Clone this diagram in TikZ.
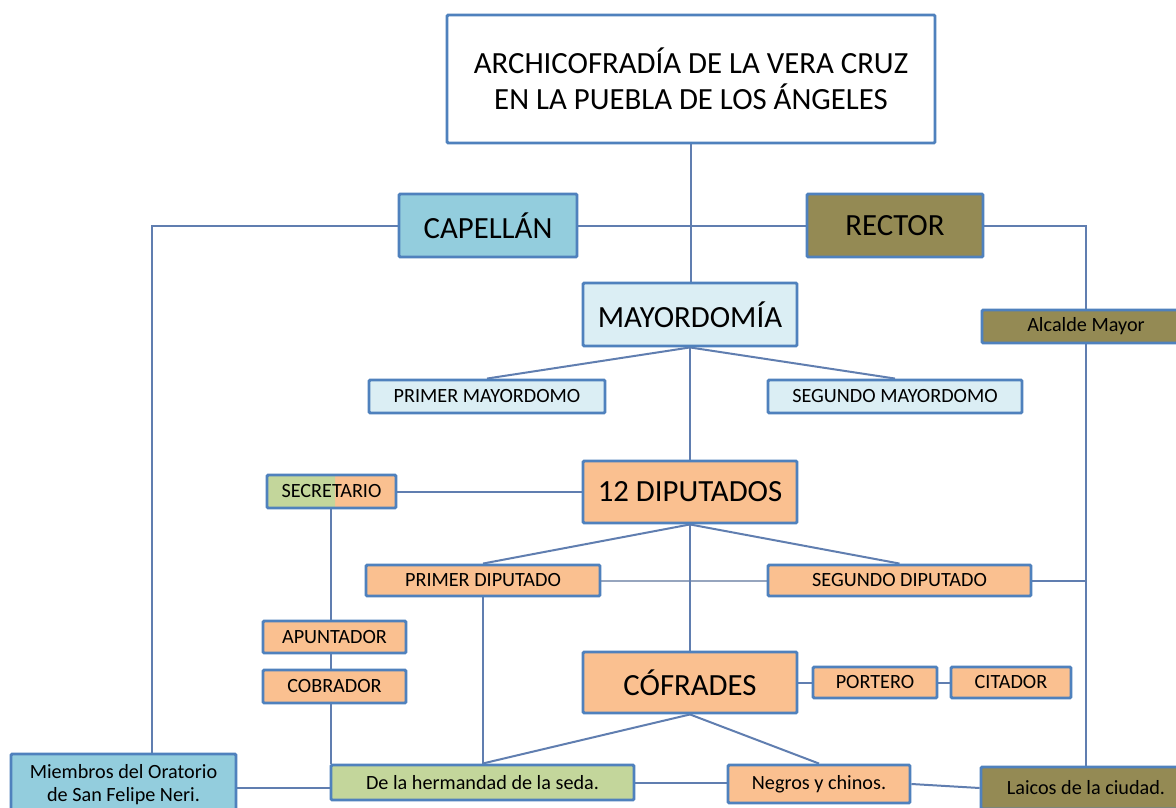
\documentclass[tikz,border=0pt]{standalone}
\usepackage{fontspec}
\setmainfont{Carlito}
\usetikzlibrary{backgrounds}
\definecolor{bordc}{RGB}{79,129,189}
\definecolor{linec}{RGB}{96,126,176}
\definecolor{linelt}{RGB}{150,165,190}
\definecolor{capc}{RGB}{147,205,221}
\definecolor{olivec}{RGB}{148,138,84}
\definecolor{ltblue}{RGB}{219,238,244}
\definecolor{orangec}{RGB}{250,192,144}
\definecolor{greenc}{RGB}{195,214,155}
\tikzset{
  box/.style={draw=bordc, line width=2.9pt, rounded corners=1.2pt, inner sep=0pt, align=center, text=black},
  big/.style={font=\fontsize{30.8}{36}\selectfont},
  small/.style={font=\fontsize{20.2}{23}\selectfont},
  conn/.style={draw=linec, line width=2pt},
  connlt/.style={draw=linelt, line width=2pt}
}
\begin{document}
\begin{tikzpicture}[x=1pt,y=-1pt]
\useasboundingbox (0,0) rectangle (1176,808);
\clip (0,0) rectangle (1176,808);
% nodes
\node[box, big, fill=white, minimum width=488, minimum height=128] (title) at (691,79) {ARCHICOFRADÍA DE LA VERA CRUZ\\EN LA PUEBLA DE LOS ÁNGELES};
\node[box, big, fill=capc, minimum width=178, minimum height=63] (capellan) at (488,225.5) {CAPELLÁN};
\node[box, big, fill=olivec, minimum width=176, minimum height=63] (rector) at (895,225.5) {RECTOR};
\node[box, big, fill=ltblue, minimum width=214, minimum height=63] (mayord) at (690,314.5) {MAYORDOMÍA};
\node[box, small, fill=olivec, minimum width=208, minimum height=33] (alcalde) at (1086,326.5) {Alcalde Mayor};
\node[box, small, fill=ltblue, minimum width=236, minimum height=33] (pmay) at (487,396.5) {PRIMER MAYORDOMO};
\node[box, small, fill=ltblue, minimum width=254, minimum height=33] (smay) at (895,396.5) {SEGUNDO MAYORDOMO};
\node[box, small, fill=orangec, minimum width=129, minimum height=33,
  path picture={\fill[greenc] (path picture bounding box.south west) rectangle ([xshift=68pt]path picture bounding box.north west);}] (secret) at (331.5,491.5) {SECRETARIO};
\node[box, big, fill=orangec, minimum width=214, minimum height=62] (dip12) at (690,492) {12 DIPUTADOS};
\node[box, small, fill=orangec, minimum width=234, minimum height=31] (pdip) at (483,580.5) {PRIMER DIPUTADO};
\node[box, small, fill=orangec, minimum width=263, minimum height=31] (sdip) at (899.5,580.5) {SEGUNDO DIPUTADO};
\node[box, small, fill=orangec, minimum width=143, minimum height=32] (apunt) at (334.5,637) {APUNTADOR};
\node[box, small, fill=orangec, minimum width=143, minimum height=33] (cobr) at (334.5,686.5) {COBRADOR};
\node[box, big, fill=orangec, minimum width=214, minimum height=61] (cofr) at (690,682.5) {CÓFRADES};
\node[box, small, fill=orangec, minimum width=124, minimum height=31] (portero) at (875,682.5) {PORTERO};
\node[box, small, fill=orangec, minimum width=120, minimum height=31] (citador) at (1011,682.5) {CITADOR};
\node[box, small, fill=capc, minimum width=225, minimum height=62] (miembros) at (123.5,785) {Miembros del Oratorio\\de San Felipe Neri.};
\node[box, small, fill=greenc, minimum width=303, minimum height=35] (seda) at (482.5,782.5) {De la hermandad de la seda.};
\node[box, small, fill=orangec, minimum width=182, minimum height=38] (negros) at (819,784) {Negros y chinos.};
\node[box, small, fill=olivec, minimum width=210, minimum height=42] (laicos) at (1086,788) {Laicos de la ciudad.};
\coordinate (capL) at (152,225.5);
\coordinate (recR) at (1086,225.5);
\coordinate (secX) at (331,0);
% connectors
\begin{scope}[on background layer]
\fill[white] (0,0) rectangle (1176,808);
\draw[conn] (title.south) -- (title.south |- mayord.north);
\draw[conn] (capellan.east) -- (rector.west);
\draw[conn] (capellan.west) -- (capL) -- (capL |- miembros.north);
\draw[conn] (rector.east) -- (recR) -- (alcalde.north);
\draw[conn] (alcalde.south) -- (laicos.north);
\draw[conn] (sdip.east) -- (sdip.east -| alcalde.south);
\draw[conn] (mayord.south) -- (pmay.north);
\draw[conn] (mayord.south) -- (smay.north);
\draw[conn] (mayord.south) -- (mayord.south |- dip12.north);
\draw[conn] (secret.east) -- (secret.east -| dip12.west);
\draw[conn] (secX |- secret.south) -- (secX |- apunt.north);
\draw[conn] (secX |- apunt.south) -- (secX |- cobr.north);
\draw[conn] (secX |- cobr.south) -- (secX |- seda.north);
\draw[conn] (pdip.south) -- (pdip.south |- seda.north);
\draw[connlt] (pdip.east) -- (sdip.west);
\draw[conn] (dip12.south) -- (pdip.north);
\draw[conn] (dip12.south) -- (sdip.north);
\draw[conn] (dip12.south) -- (dip12.south |- cofr.north);
\draw[conn] (cofr.east) -- (portero.west);
\draw[conn] (portero.east) -- (citador.west);
\draw[conn] (cofr.south) -- (seda.north);
\draw[conn] (cofr.south) -- (negros.north);
\draw[conn] ([yshift=-3pt]miembros.east) -- ([yshift=-3pt]miembros.east -| seda.west);
\draw[conn] (seda.east) -- (seda.east -| negros.west);
\draw[conn] (negros.east) -- (laicos.west);
\end{scope}
\end{tikzpicture}
\end{document}
